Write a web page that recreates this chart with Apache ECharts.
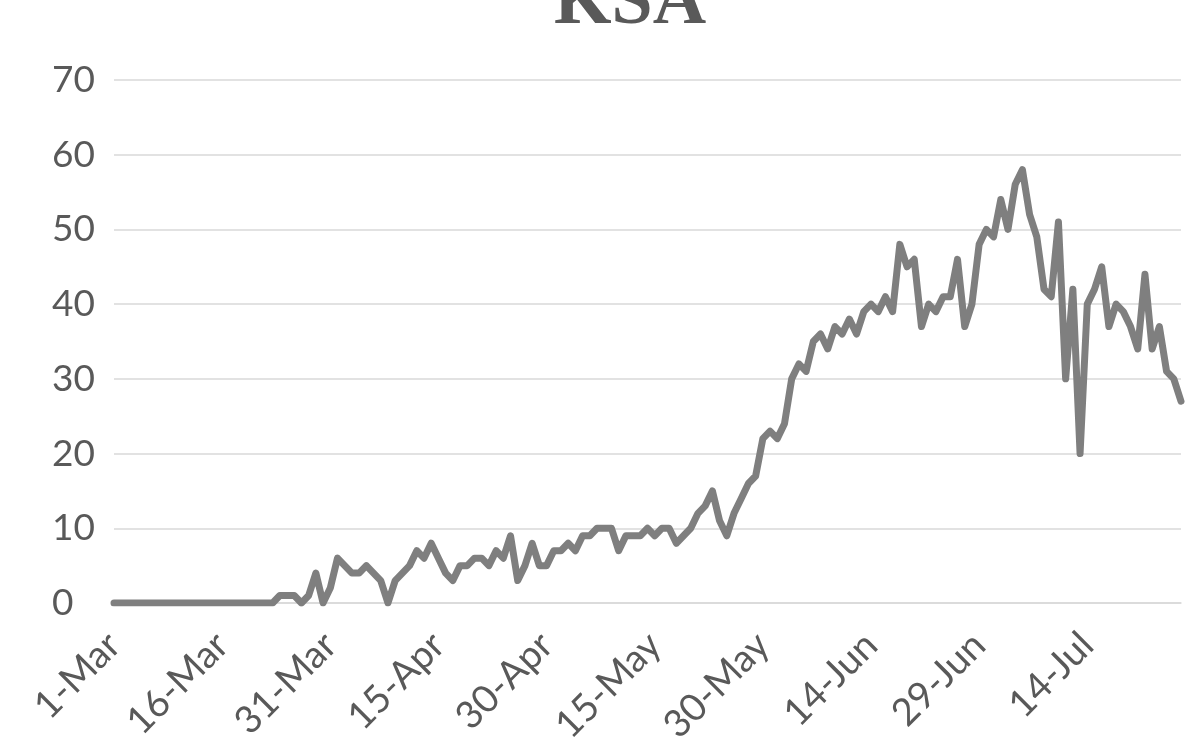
<!DOCTYPE html>
<html lang="en">

<head>
  <meta charset="UTF-8">
  <title>KSA</title>
  <script src="https://cdn.jsdelivr.net/npm/echarts@6/dist/echarts.min.js"></script>
  <style>
    html, body { margin: 0; padding: 0; background: #fff; }
    #chart { width: 1191px; height: 749px; }
  </style>
</head>

<body>
  <div id="chart"></div>

  <script>
    // daily values, 1-Mar .. 27-Jul
    const startMonth = 2   // March (0-based)
    const startDay = 1
    const monthNames = ['Jan', 'Feb', 'Mar', 'Apr', 'May', 'Jun', 'Jul', 'Aug']
    const values = [
      0, 0, 0, 0, 0, 0, 0, 0, 0, 0, 0, 0, 0, 0, 0, 0, 0, 0, 0, 0, 0, 0, 0,
      1, 1, 1, 0, 1, 4, 0, 2, 6, 5, 4, 4, 5, 4, 3, 0, 3, 4, 5, 7, 6, 8, 6, 4, 3,
      5, 5, 6, 6, 5, 7, 6, 9, 3, 5, 8, 5, 5, 7, 7, 8, 7, 9, 9, 10, 10, 10, 7,
      9, 9, 9, 10, 9, 10, 10, 8, 9, 10, 12, 13, 15, 11, 9, 12, 14, 16, 17,
      22, 23, 22, 24, 30, 32, 31, 35, 36, 34, 37, 36, 38, 36, 39, 40, 39, 41, 39,
      48, 45, 46, 37, 40, 39, 41, 41, 46, 37, 40, 48, 50, 49, 54, 50, 56, 58,
      52, 49, 42, 41, 51, 30, 42, 20, 40, 42, 45, 37, 40, 39, 37, 34, 44, 34,
      37, 31, 30, 27
    ]
    const yTicks = [0, 10, 20, 30, 40, 50, 60, 70]

    // category labels like "1-Mar"
    const categories = values.map((v, i) => {
      const d = new Date(Date.UTC(2020, startMonth, startDay + i))
      return d.getUTCDate() + '-' + monthNames[d.getUTCMonth()]
    })

    const chart = echarts.init(document.getElementById('chart'))
    chart.setOption({
      animation: false,
      title: {
        text: 'KSA',
        left: 549,
        top: -38,
        textStyle: {
          fontFamily: 'Liberation Serif',
          fontWeight: 'bold',
          fontSize: 74,
          color: '#595959'
        }
      },
      grid: { left: 114, right: 10, top: 80, bottom: 146 },
      xAxis: {
        type: 'category',
        data: categories,
        boundaryGap: false,
        axisLine: { lineStyle: { color: '#d9d9d9', width: 1.5 } },
        axisTick: { show: false },
        axisLabel: {
          interval: 14,
          rotate: 45,
          margin: 36,
          fontSize: 38,
          fontFamily: 'Lato',
          color: '#595959'
        }
      },
      yAxis: {
        type: 'value',
        min: yTicks[0],
        max: yTicks[yTicks.length - 1],
        interval: 10,
        axisLine: { show: false },
        axisTick: { show: false },
        axisLabel: {
          align: 'left',
          margin: 62,
          fontSize: 37,
          fontFamily: 'Lato',
          color: '#595959'
        },
        splitLine: { lineStyle: { color: '#d9d9d9', width: 1.5 } }
      },
      series: [{
        type: 'line',
        data: values,
        symbol: 'none',
        lineStyle: { color: '#7f7f7f', width: 7, join: 'round', cap: 'round' }
      }]
    })
  </script>
</body>

</html>
